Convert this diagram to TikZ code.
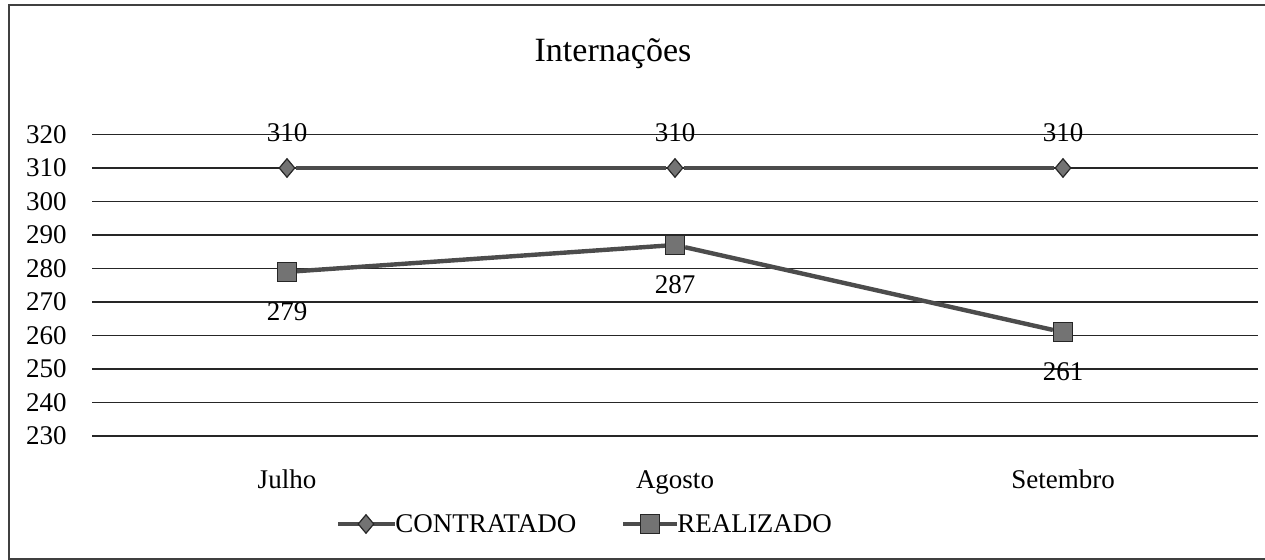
\documentclass[tikz,border=0pt]{standalone}
\usepackage{fontspec}
\setmainfont{Liberation Serif}
\usepackage{tikz}
\usetikzlibrary{shapes.geometric,positioning}

\begin{document}
\begin{tikzpicture}[x=0.5pt,y=-0.5pt,
		every node/.style={font=\fontsize{13.5}{16}\selectfont,inner sep=0pt},
		grid/.style={black!85,line width=0.6pt},
		serie/.style={black!70,line width=2.2pt},
		losango/.style={diamond,draw=black!85,fill=black!55,line width=0.6pt,minimum width=8pt,minimum height=9.5pt},
		quadrado/.style={rectangle,draw=black!85,fill=black!55,line width=0.6pt,minimum size=9.5pt}]
		\useasboundingbox (0,0) rectangle (1265,560);
		\draw[black!75,line width=0.8pt] (1265,5) to (9,5) to (9,559) to (1265,559);
		
		\node[font=\fontsize{17}{20}\selectfont,anchor=base] (titulo) at (613,62) {Internações};
		
		\draw[grid] (92,134.5) to (1258,134.5);
		\draw[grid] (92,168) to (1258,168);
		\draw[grid] (92,201.5) to (1258,201.5);
		\draw[grid] (92,235) to (1258,235);
		\draw[grid] (92,268.5) to (1258,268.5);
		\draw[grid] (92,302) to (1258,302);
		\draw[grid] (92,335.5) to (1258,335.5);
		\draw[grid] (92,369) to (1258,369);
		\draw[grid] (92,402.5) to (1258,402.5);
		\draw[grid] (92,436) to (1258,436);
		
		\node[anchor=east] (y320) at (67,134.5) {320};
		\node[anchor=east] (y310) at (67,168) {310};
		\node[anchor=east] (y300) at (67,201.5) {300};
		\node[anchor=east] (y290) at (67,235) {290};
		\node[anchor=east] (y280) at (67,268.5) {280};
		\node[anchor=east] (y270) at (67,302) {270};
		\node[anchor=east] (y260) at (67,335.5) {260};
		\node[anchor=east] (y250) at (67,369) {250};
		\node[anchor=east] (y240) at (67,402.5) {240};
		\node[anchor=east] (y230) at (67,436) {230};
		
		\node[anchor=base] (julho) at (287,489) {Julho};
		\node[anchor=base] (agosto) at (675,489) {Agosto};
		\node[anchor=base] (setembro) at (1063,489) {Setembro};
		
		\node[losango] (c1) at (287,168) {};
		\node[losango] (c2) at (675,168) {};
		\node[losango] (c3) at (1063,168) {};
		\node[quadrado] (r1) at (287,271.9) {};
		\node[quadrado] (r2) at (675,245) {};
		\node[quadrado] (r3) at (1063,332.2) {};
		
		\draw[serie] (c1) to (c2);
		\draw[serie] (c2) to (c3);
		\draw[serie] (r1) to (r2);
		\draw[serie] (r2) to (r3);
		
		\node[above=8pt of c1] (v1) {310};
		\node[above=8pt of c2] (v2) {310};
		\node[above=8pt of c3] (v3) {310};
		\node[below=10pt of r1] (w1) {279};
		\node[below=10pt of r2] (w2) {287};
		\node[below=10pt of r3] (w3) {261};
		
		\coordinate (a0) at (338,524);
		\coordinate (a1) at (395,524);
		\coordinate (b0) at (623,524);
		\coordinate (b1) at (677,524);
		\draw[serie,line width=1.8pt] (a0) to (a1);
		\draw[serie,line width=1.8pt] (b0) to (b1);
		\node[losango] (la) at (366,524) {};
		\node[quadrado] (lb) at (650,524) {};
		\node[anchor=west] (ta) at (395,524) {CONTRATADO};
		\node[anchor=west] (tb) at (677,524) {REALIZADO};
	\end{tikzpicture}
\end{document}
